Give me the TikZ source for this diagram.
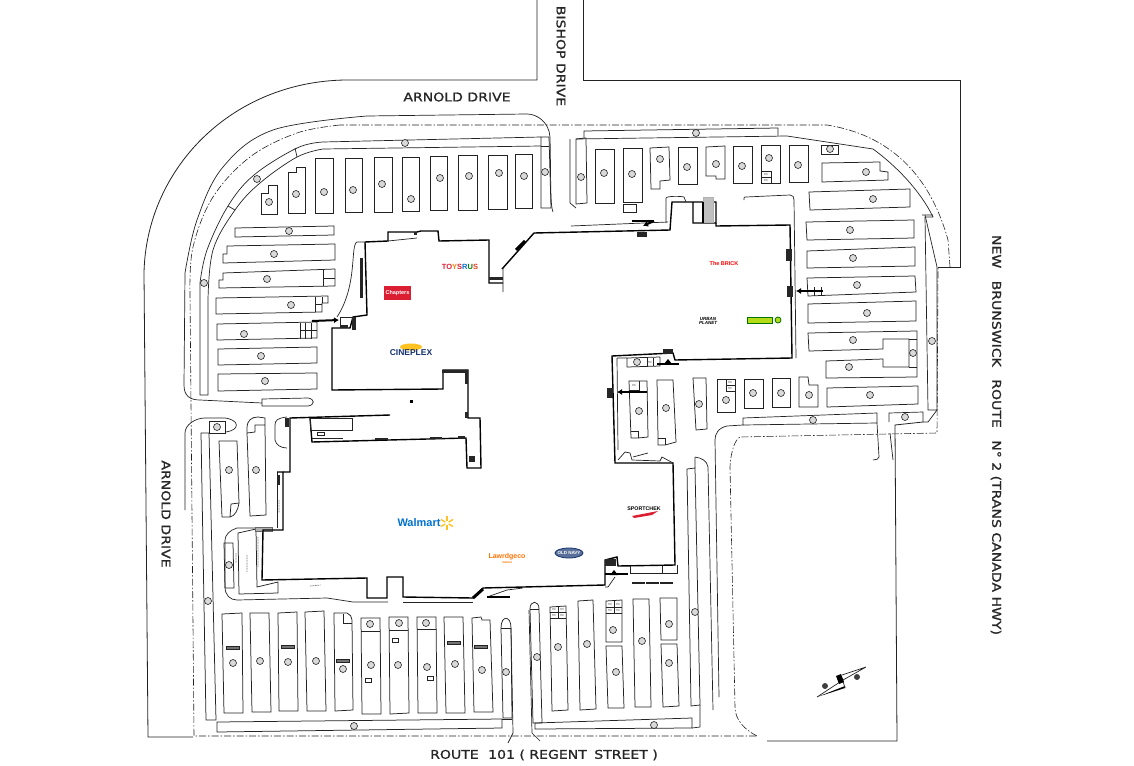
\documentclass[tikz,border=0pt]{standalone}
\usepackage{fontspec}
\setmainfont{DejaVu Sans}
\newfontfamily\logofont{Liberation Sans}
\newfontfamily\roadfont[FakeStretch=1.17,FakeBold=1.2]{DejaVu Sans}
\usetikzlibrary{calc,positioning,arrows.meta}
\definecolor{wmblue}{RGB}{0,113,206}
\definecolor{wmyellow}{RGB}{255,194,32}
\definecolor{cineblue}{RGB}{20,50,110}
\definecolor{trred}{RGB}{220,30,50}
\definecolor{lineblack}{RGB}{35,35,35}
\tikzset{
    x=1pt,y=-1pt,
    island/.style={draw=lineblack,line width=0.75pt,line join=miter},
    curb/.style={draw=lineblack,line width=0.7pt},
    road/.style={draw=lineblack,line width=0.8pt},
    wall/.style={draw=black,line width=1.4pt,line join=miter},
    propline/.style={draw=lineblack,line width=0.6pt,dash pattern=on 7pt off 2pt on 1.5pt off 2pt},
    lotno/.style={circle,draw=lineblack,fill=black!15,line width=0.6pt,minimum size=7pt,inner sep=0pt},
    bar/.style={draw=lineblack,fill=black!55,line width=0.5pt},
    sign/.style={draw=black,line width=2pt,-{Latex[length=5pt,width=6pt]}},
    hclabel/.style={font=\logofont\fontsize{3}{3}\selectfont,text=black!65,inner sep=0pt},
    roadname/.style={font=\roadfont\fontsize{12}{12}\selectfont,text=black!85,inner sep=0pt},
    logo/.style={font=\logofont\bfseries,inner sep=0pt}
}
\begin{document}
\begin{tikzpicture}
    \useasboundingbox (0,0) rectangle (1134,765);

    % roads
    \draw[road] (537,0) -- (537,80) -- (345,80) .. controls (230,82) and (146,170) .. (144,273) -- (148,737) -- (193,737);
    \draw[road] (583,0) -- (583,80) -- (960,80) -- (960,267) -- (938,267);
    \draw[road] (767,741) -- (897,741) -- (895,425) -- (923,422);
    \draw[curb] (890,433) -- (893,460);
    \draw[curb] (553,212) .. controls (550,205) and (551,180) .. (550,137) .. controls (549,122) and (537,114) .. (527,114) -- (367,116) plot[smooth,tension=0.6] coordinates {(367,116) (273,130) (223,167) (197,220) (185,273)} -- (184,385) .. controls (184,396) and (190,400) .. (200,400) -- (262,403);
    \draw[curb] (262,399) -- (308,398) .. controls (315,399) and (315,405) .. (308,406) -- (262,406) -- cycle;

    % property line
    \draw[propline] (950,267) -- (948,240) .. controls (930,175) and (890,135) .. (827,125) -- (340,125);
    \draw[propline] plot[smooth,tension=0.6] coordinates {(340,125) (297,133) (250,157) (213,197) (193,247) (190,293)} -- (194,736) -- (757,736);
    \draw[propline] (757,736) .. controls (745,730) and (735,720) .. (735,707) -- (730,467) .. controls (731,450) and (735,440) .. (740,437) -- (937,433) -- (938,268);

    % upper left double curb
    \draw[curb] (541,137) -- (323,142) plot[smooth,tension=0.6] coordinates {(323,142) (297,148) (254,175) (228,206) (207,250) (200,283)} -- (200,395) -- (208,395) -- (208,300) plot[smooth,tension=0.6] coordinates {(208,300) (213,250) (235,210) (260,183) (297,157) (323,149)} -- (541,146);
    \draw[island] (541,137) -- (549,137) -- (551,208) -- (541,208) -- cycle;
    \draw[curb] (541,146) -- (549,146);
    \draw[curb] (295,148) -- (297,157);
    \draw[curb] (228,206) -- (235,210);

    % top row, left
    \draw[island] (261,193) -- (268,193) -- (268,185) -- (277,185) -- (277,214) -- (261,214) -- cycle;
    \draw[island] (288,172) -- (296,172) -- (296,167) -- (305,167) -- (305,213) -- (288,213) -- cycle;
    \foreach \xa/\xb/\ya/\yb in {315/333/158/213,345/362/158/212,374/392/157/212,402/419/157/211,430/447/156/210,458/477/155/210,488/507/155/209,515/532/154/208}
        \draw[island] (\xa,\ya) -- (\xb,\ya) -- (\xb,\yb) -- (\xa,\yb) -- cycle;

    % west rows
    \draw[island] (235,228) -- (334,226) -- (334,235) -- (235,237) -- cycle;
    \draw[island] (227,246) -- (335,244) -- (335,260) -- (223,263) -- (223,254) -- (227,254) -- cycle;
    \draw[island] (223,273) -- (335,269) -- (335,286) -- (219,288) -- (219,280) -- (223,280) -- cycle;
    \draw[island] (323,270) -- (323,286) (323,278) -- (335,278);
    \draw[island] (216,298) -- (328,296) -- (328,303) -- (322,303) -- (322,312) -- (216,314) -- cycle;
    \draw[island] (315,297) -- (315,312) (322,297) -- (322,303) (315,304) -- (322,304);
    \draw[island] (217,324) -- (317,322) -- (317,338) -- (217,340) -- cycle;
    \draw[island] (300,323) -- (300,339) (311,323) -- (311,339) (300,330) -- (317,330) (305,323) -- (305,339);
    \draw[island] (218,349) -- (317,347) -- (317,363) -- (218,365) -- cycle;
    \draw[island] (218,374) -- (317,373) -- (317,389) -- (218,391) -- cycle;

    % top strip and top row, right
    \draw[curb] (570,139) -- (570,203) -- (576,208);
    \draw[island] (576,139) -- (586,138) -- (587,203) -- (576,204) -- cycle;
    \draw[curb] (576,139) -- (787,136) -- (873,149) .. controls (895,165) and (920,190) .. (933,217);
    \draw[island] (584,138) -- (584,131) -- (778,128) -- (778,136);
    \draw[curb] (922,215) -- (933,215) (933,217) -- (925,217) -- (928,410) -- (937,410) -- (928,422) -- (923,422);
    \draw[curb] (925,215) -- (937,267) -- (937,410);
    \foreach \xa/\xb/\ya/\yb in {595/614/149/203,623/642/148/202,678/697/147/184,733/752/146/183,761/780/145/183,789/808/145/182,821/838/145/154}
        \draw[island] (\xa,\ya) -- (\xb,\ya) -- (\xb,\yb) -- (\xa,\yb) -- cycle;
    \draw[island] (650,148) -- (669,147) -- (670,180) -- (660,181) -- (660,189) -- (651,189) -- cycle;
    \draw[island] (706,147) -- (725,146) -- (725,179) -- (716,179) -- (716,176) -- (706,176) -- cycle;
    \draw[island] (761,171) -- (771,171) -- (771,183) (761,177) -- (771,177);
    \draw[island] (623,204) -- (636,204) -- (636,212) -- (623,212) -- cycle;

    % east rows
    \draw[island] (822,163) -- (880,162) -- (880,171) -- (888,172) -- (888,180) -- (822,182) -- cycle;
    \draw[island] (809,192) -- (910,189) -- (910,207) -- (810,210) -- cycle;
    \draw[island] (806,222) -- (914,220) -- (914,238) -- (807,240) -- cycle;
    \draw[island] (807,251) -- (915,247) -- (915,266) -- (807,268) -- cycle;
    \draw[island] (807,278) -- (915,276) -- (916,292) -- (808,296) -- cycle;
    \draw[island] (808,304) -- (916,301) -- (916,321) -- (808,323) -- cycle;
    \draw[island] (808,333) -- (917,331) -- (917,377) -- (826,378) -- (826,361) -- (883,359) -- (883,367) -- (909,367) -- (909,339) -- (883,339) -- (883,349) -- (809,351) -- cycle;
    \draw[island] (909,339) -- (917,339) (909,367) -- (917,367);
    \draw[island] (827,388) -- (918,386) -- (918,404) -- (827,407) -- cycle;
    \draw[island] (814,287) -- (814,296) (821,287) -- (821,296);

    % bay between the two wings
    \draw[island] (799,377) -- (808,377) -- (809,385) -- (818,385) -- (818,407) -- (799,407) -- cycle;
    \draw[island] (772,378) -- (790,378) -- (790,407) -- (772,407) -- cycle;
    \draw[island] (744,379) -- (763,379) -- (763,408) -- (744,408) -- cycle;
    \draw[island] (717,379) -- (735,379) -- (735,412) -- (717,412) -- cycle;
    \draw[island] (726,379) -- (726,391) -- (735,391) (726,385) -- (735,385);
    \draw[island] (693,378) -- (706,378) -- (707,429) -- (696,430) -- cycle;
    \draw[island] (657,380) -- (673,380) -- (676,442) -- (665,445) -- (658,445) -- (658,438) -- cycle;
    \draw[island] (658,438) -- (665,438) -- (665,445);
    \draw[island] (629,381) -- (647,381) -- (648,437) -- (638,438) -- (631,438) -- cycle;
    \draw[island] (631,431) -- (638,431) -- (638,438);
    \draw[island] (629,390) -- (639,390) -- (639,381);
    \draw[island] (627,358) -- (660,357) -- (660,366) -- (627,367) -- cycle;
    \draw[island] (647,358) -- (647,366) (653,358) -- (653,366);

    % south east
    \draw[curb] (743,418) -- (877,413) -- (877,423) -- (743,425) -- cycle;
    \draw[curb] (743,425) -- (727,426) .. controls (718,428) and (715,434) .. (715,440) -- (719,697);
    \draw[curb] (877,423) -- (879,457) .. controls (879,459) and (876,460) .. (873,460);
    \draw[curb] (923,422) -- (923,412) -- (889,413) -- (889,422);
    \draw[curb] (695,457) .. controls (702,458) and (707,461) .. (708,467) -- (713,710);
    \draw[island] (687,469) -- (695,468) -- (700,705) -- (691,706) -- cycle;
    \draw[curb] (695,468) -- (695,457) (700,705) -- (700,727) -- (692,728);
    \draw[island] (535,723) -- (692,718) -- (692,728) -- (535,729) -- cycle;
    \draw[island] (530,609) .. controls (530,600) and (539,600) .. (539,609) -- (542,723) -- (533,723) -- cycle;
    \draw[curb] (529,610) -- (532,733) -- (540,741);
    \draw[island] (530,609) -- (539,609);

    % south row, right part
    \draw[island] (550,607) -- (566,606) -- (568,710) -- (552,711) -- cycle;
    \draw[island] (550,618) -- (566,618) (558,607) -- (558,618) (550,612) -- (566,612);
    \draw[island] (578,601) -- (593,600) -- (596,709) -- (580,710) -- cycle;
    \draw[island] (606,601) -- (622,600) -- (622,642) -- (606,642) -- cycle;
    \draw[island] (606,613) -- (622,613) (614,601) -- (614,613) (606,607) -- (622,607);
    \draw[island] (606,646) -- (622,646) -- (624,708) -- (608,708) -- cycle;
    \draw[island] (633,599) -- (649,599) -- (651,707) -- (635,707) -- cycle;
    \draw[island] (660,598) -- (677,598) -- (677,640) -- (661,640) -- cycle;
    \draw[island] (661,644) -- (677,644) -- (679,706) -- (663,707) -- cycle;
    \foreach \xa/\ya in {632/582,646/582,660/582}
        \draw[bar] (\xa,\ya) rectangle ++(12,1);

    % south row, left part
    \draw[island] (222,614) -- (242,613) -- (243,713) -- (224,713) -- cycle;
    \draw[island] (250,613) -- (269,613) -- (271,712) -- (252,712) -- cycle;
    \draw[island] (278,613) -- (297,612) -- (298,711) -- (279,711) -- cycle;
    \draw[island] (305,612) -- (324,611) -- (326,711) -- (307,711) -- cycle;
    \draw[island] (334,613) -- (347,613) .. controls (350,614) and (352,617) .. (352,620) -- (353,710) -- (335,711) -- cycle;
    \draw[island] (343,614) -- (343,623) -- (352,623);
    \draw[island] (361,618) -- (380,618) -- (381,714) -- (362,714) -- cycle;
    \draw[island] (361,631) -- (380,631);
    \draw[island] (389,617) -- (408,617) -- (409,713) -- (390,714) -- cycle;
    \draw[island] (389,630) -- (408,630);
    \draw[island] (417,617) -- (436,617) -- (437,713) -- (418,713) -- cycle;
    \draw[island] (417,629) -- (436,629);
    \draw[island] (444,617) -- (463,617) -- (465,713) -- (446,713) -- cycle;
    \draw[island] (472,618) -- (481,617) -- (482,620) -- (490,620) -- (493,712) -- (474,712) -- cycle;
    \draw[island] (501,628) .. controls (501,615) and (511,615) .. (511,628) -- (512,718) -- (503,718) -- cycle;
    \draw[island] (501,628) -- (511,628);
    \draw[curb] (511,628) -- (513,733) -- (508,743);
    \draw[island] (217,722) -- (502,719) -- (502,728) -- (217,732) -- cycle;
    \draw[curb] (502,719) -- (512,719);
    \foreach \xa/\ya in {226/646,281/645,336/659,447/641,474/645}
        \draw[bar] (\xa,\ya) rectangle ++(13,3);
    \foreach \xa/\ya in {365/678,392/638,427/676}
        \draw[island] (\xa,\ya) rectangle ++(6,4);

    % west strip and south west corner
    \draw[island] (201,433) -- (209,433) -- (216,720) -- (206,720) -- cycle;
    \draw[island] (209,421) -- (225,421) -- (225,433) -- (209,433) -- cycle;
    \draw[curb] (185,510) -- (185,433) .. controls (185,425) and (195,418) .. (205,418) -- (225,418) .. controls (240,420) and (240,430) .. (226,432);
    \draw[island] (219,441) -- (237,441) -- (239,503) .. controls (238,510) and (235,516) .. (230,517) -- (222,517) -- cycle;
    \draw[island] (231,504) -- (239,503) (231,504) -- (230,517);
    \draw[island] (247,433) -- (247,428) .. controls (247,420) and (252,417) .. (258,417) -- (265,418) -- (265,425) -- (255,425) -- (255,432) -- (247,433) -- (250,516) -- (266,515) -- (265,425);
    \draw[curb] (287,417) .. controls (278,418) and (275,420) .. (275,425) -- (275,440) .. controls (276,445) and (281,448) .. (287,448);
    \draw[curb] (272,528) -- (237,528) .. controls (230,530) and (225,535) .. (225,540) -- (225,587) .. controls (225,595) and (230,600) .. (237,600) -- (327,598) -- (353,602) -- (388,602);
    \draw[curb] (403,602) -- (473,602);
    \draw[island] (256,529) -- (238,533) -- (239,594) -- (278,593) -- (278,582) -- (257,587) -- cycle;
    \draw[island] (224,543) -- (233,543) -- (234,588) -- (225,588) -- cycle;
    \draw[curb] (277,472) -- (277,528);
    \draw[draw=black!60,fill=black!30,line width=0.4pt] (255,527) rectangle (272,531);
    \draw[black!50,line width=0.7pt,dash pattern=on 1pt off 0.6pt] (279,500) -- (279,513) (236,553) -- (236,563) (247,555) -- (247,572) (258,537) -- (258,567) (310,586) -- (321,585);

    % building
    \draw[wall] (365,242) -- (388,241) -- (388,232) -- (417,232) -- (421,231) -- (438,231) -- (439,241) -- (489,240) -- (489,283) -- (503,283);
    \draw[wall] (502,269) -- (534,233) -- (670,230) -- (672,202) -- (693,202) -- (693,223) -- (716,223) -- (716,202) -- (693,202);
    \draw[wall] (716,223) -- (716,226) -- (790,225) -- (792,358) -- (675,360) -- (673,353) -- (612,356) -- (615,463) -- (673,463) -- (675,565) -- (618,566) -- (617,557) -- (605,560) -- (605,585) -- (483,588) -- (473,598) -- (403,597) -- (403,577) -- (387,577) -- (387,598) -- (367,598) -- (367,578) -- (262,580) -- (263,530) -- (283,530) -- (283,472) -- (277,472);
    \draw[wall] (283,472) -- (290,472) -- (290,418) -- (390,415);
    \draw[wall] (310,418) -- (312,442) -- (466,438) -- (467,468) -- (481,468) -- (480,418) -- (468,418) -- (468,370) -- (443,370) -- (443,389) -- (332,390) -- (332,328) -- (350,328) -- (353,317) -- (367,315) -- (365,242);
    \draw[curb] (340,317) -- (353,317) (340,317) -- (340,327);
    \draw[curb] (365,242) -- (357,242) .. controls (350,245) and (358,285) .. (337,317);
    \draw[curb] (503,268) -- (503,292) (388,241) -- (417,238);
    \draw[curb] (617,358) -- (618,450) (627,358) -- (617,358);
    \draw[curb] (666,223) -- (666,198) .. controls (667,196) and (680,196) .. (684,197) -- (686,202);
    \draw[curb] (744,200) -- (744,198) .. controls (744,197) and (745,197) .. (746,197) -- (790,195) .. controls (793,195) and (794,197) .. (794,200) -- (796,358);
    \draw[curb] (571,226) -- (668,222);
    \draw[island] (310,418) rectangle (352,430);
    \draw[island] (312,438) -- (343,438) (317,432) rectangle (324,435);
    \draw[curb] (633,457) -- (648,453);
    \draw[curb] (618,460) -- (625,452) -- (630,453) -- (632,460) -- (660,461) -- (662,457) -- (673,463);
    \draw[curb] (630,566) -- (630,573) -- (662,573) -- (662,566);
    \draw[curb] (677,565) -- (677,573) -- (630,573);
    \draw[curb] (615,577) -- (608,587) -- (605,587);
    \draw[curb] (487,597) -- (507,590) -- (523,588);
    \draw[draw=black!30,fill=black!25,line width=0.3pt] (703,197) rectangle (713,222);
    \draw[wall] (703,202) -- (703,223);

    % entry signs and stairs
    \foreach \xa/\ya/\xb/\yb in {312/321/339/320,654/221/643/226,647/392/617/392,823/291/796/291}
        \draw[sign] (\xa,\ya) -- (\xb,\yb);
    \draw[draw=black,line width=2pt] (632,221) -- (654,221) (657,364) -- (679,364) (605,574) -- (628,574) (487,597) -- (510,597);
    \draw[draw=black,line width=3pt] (516,250) -- (525,241) (473,598) -- (483,589);
    \foreach \xa/\ya in {668/359,614/570}
        \fill[black] (\xa,\ya) -- ++(-4,5) -- ++(8,0) -- cycle;
    \foreach \xa/\ya/\w/\h in {352/317/4/13,340/325/8/3,489/277/14/3,637/232/10/5,786/249/6/12,787/286/6/11,663/349/10/5,607/388/6/10,469/456/6/6,360/258/3/40,285/418/4/9,605/559/11/7,277/475/3/10,
        375/438/13/2,430/437/12/2,458/436/7/3,465/412/3/6,442/370/26/3,465/372/3/12,414/232/3/3}
        \fill[black!85] (\xa,\ya) rectangle ++(\w,\h);
    \fill (410,400) rectangle ++(3,3);

    % lot numbers
    \foreach \x/\y in {269/202,296/194,324/192,353/190,382/184,411/199,440/178,469/176,499/173,524/176,545/172,405/143,257/179,204/283,289/231,274/254,267/279,291/305,244/334,261/356,265/381,
        581/177,604/173,632/174,660/159,687/167,716/164,742/166,769/158,798/165,830/149,696/133,866/172,873/199,850/230,853/258,857/285,867/313,853/340,849/367,913/353,870/395,932/341,
        809/395,781/393,753/393,726/400,699/404,666/408,639/411,637/362,813/420,905/417,
        217/427,229/470,256/470,229/565,208/601,233/663,260/661,288/662,316/661,343/669,370/624,371/665,399/623,398/665,426/623,427/667,455/664,482/670,506/672,354/726,
        537/657,558/647,587/644,613/630,616/672,642/641,669/624,669/663,654/725,695/612}
        \node[lotno] at (\x,\y) {};
    \foreach \x/\y in {766/174,766/180,730/382,730/388,634/385,650/362,554/609,562/609,554/615,562/615,610/604,618/604,610/610,618/610}
        \node[hclabel] at (\x,\y) {HC};

    % tenants
    \node[logo,font=\logofont\bfseries\fontsize{7.5}{7.5}\selectfont] (toys) at (460,267) {\textcolor{trred}{TO}\textcolor{orange}{Y}\textcolor{trred}{S}\textcolor{wmblue}{R}\textcolor{green!50!black}{U}\textcolor{trred!70!orange}{S}};
    \fill[trred] (384,286) rectangle (411,300);
    \node[logo,text=white,font=\logofont\bfseries\fontsize{5.5}{5.5}\selectfont] (chapters) at (397.5,293) {Chapters};
    \fill[wmyellow] (411,347) ellipse (11 and 3.5);
    \node[logo,text=cineblue,font=\logofont\bfseries\fontsize{8.5}{8.5}\selectfont] (cineplex) at (411,353) {CINEPLEX};
    \node[logo,text=red,font=\logofont\bfseries\fontsize{5.5}{5.5}\selectfont] (brick) at (724,264) {The BRICK};
    \node[logo,align=center,font=\logofont\bfseries\itshape\fontsize{4.5}{4.5}\selectfont] (urban) at (708,321) {URBAN\\PLANET};
    \draw[draw=green!45!black,fill=yellow!70!green,line width=0.8pt] (747,317) rectangle (772,323);
    \draw[draw=green!45!black,fill=yellow!70!green,line width=0.8pt] (778,320) circle (3);
    \node[logo,text=wmblue,font=\logofont\bfseries\fontsize{11}{11}\selectfont] (walmart) at (419,523) {Walmart};
    \foreach \a in {30,90,...,330}
        \draw[wmyellow,line width=1.4pt] (447,523) ++(\a:2) -- ++(\a:5);
    \node[logo,font=\logofont\bfseries\fontsize{5.3}{5.3}\selectfont] (sportchek) at (644,509) {SPORTCHEK};
    \fill[trred] (632,516) -- (658,511) -- (652,515) -- (634,518) -- cycle;
    \node[logo,text=orange!90!red,font=\logofont\bfseries\fontsize{7}{7}\selectfont] (lawr) at (507,557) {Lawrdgeco};
    \node[logo,text=orange!90!red,font=\logofont\bfseries\fontsize{3}{3}\selectfont] (lawrsub) at (507,562) {market};
    \draw[draw=cineblue,fill=cineblue!70,line width=0.8pt] (569,553) ellipse (14 and 5);
    \node[logo,text=white,font=\logofont\bfseries\fontsize{4.5}{4.5}\selectfont] (oldnavy) at (569,553) {OLD NAVY};

    % north arrow
    \fill[black] (817,697) -- (845,686) -- (845,688) -- cycle;
    \draw[curb] (817,697) -- (843,680) -- (866,667) -- (842,675) (845,688) -- (842,678);
    \fill[black] (836,676) -- (841,674) -- (844,682) -- (839,684) -- cycle;
    \fill[black!75] (825,686) circle (3);
    \fill[black!75] (857,677) circle (3);

    % road names
    \node[roadname] (arnoldtop) at (457,97) {ARNOLD DRIVE};
    \node[roadname,rotate=-90] (bishop) at (561,56) {BISHOP DRIVE};
    \node[roadname,rotate=-90] (arnoldleft) at (166,514) {ARNOLD DRIVE};
    \node[roadname,rotate=-90] (route2) at (996,435) {NEW\hspace{8pt} BRUNSWICK\hspace{8pt} ROUTE\hspace{8pt} N° 2 (TRANS CANADA HWY)};
    \node[roadname] (route101) at (544,755) {ROUTE\hspace{5pt} 101 ( REGENT\hspace{3pt} STREET )};
\end{tikzpicture}
\end{document}
